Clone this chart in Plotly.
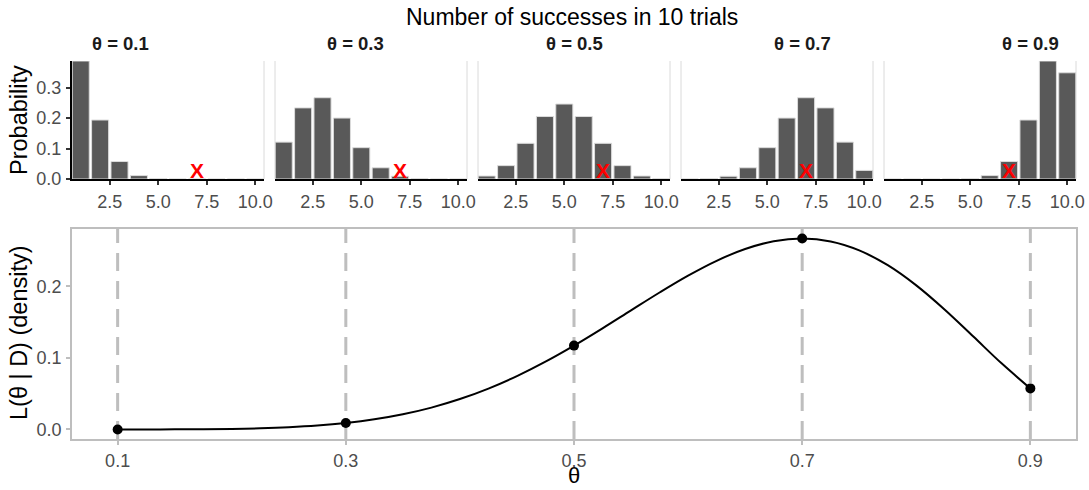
import plotly.graph_objects as go

# ---------------- data ----------------
successes = [1, 2, 3, 4, 5, 6, 7, 8, 9, 10]
theta_values = [0.1, 0.3, 0.5, 0.7, 0.9]
panel_labels = ["θ = 0.1", "θ = 0.3", "θ = 0.5", "θ = 0.7", "θ = 0.9"]

prob_theta_01 = [0.3874, 0.1937, 0.0574, 0.0112, 0.0015, 0.0001, 0.0000, 0.0000, 0.0000, 0.0000]
prob_theta_03 = [0.1211, 0.2335, 0.2668, 0.2001, 0.1029, 0.0368, 0.0090, 0.0014, 0.0001, 0.0000]
prob_theta_05 = [0.0098, 0.0439, 0.1172, 0.2051, 0.2461, 0.2051, 0.1172, 0.0439, 0.0098, 0.0010]
prob_theta_07 = [0.0001, 0.0014, 0.0090, 0.0368, 0.1029, 0.2001, 0.2668, 0.2335, 0.1211, 0.0282]
prob_theta_09 = [0.0000, 0.0000, 0.0000, 0.0001, 0.0015, 0.0112, 0.0574, 0.1937, 0.3874, 0.3487]
panel_probs = [prob_theta_01, prob_theta_03, prob_theta_05, prob_theta_07, prob_theta_09]

observed_successes = 7
observed_marker_y = 0.019

curve_theta = [0.100, 0.125, 0.150, 0.175, 0.200, 0.225, 0.250, 0.275, 0.300, 0.325,
               0.350, 0.375, 0.400, 0.425, 0.450, 0.475, 0.500, 0.525, 0.550, 0.575,
               0.600, 0.625, 0.650, 0.675, 0.700, 0.725, 0.750, 0.775, 0.800, 0.825,
               0.850, 0.875, 0.900]
curve_likelihood = [0.00001, 0.00004, 0.00013, 0.00034, 0.00079, 0.00163, 0.00309, 0.00544,
                    0.00900, 0.01413, 0.02120, 0.03055, 0.04247, 0.05714, 0.07460, 0.09474,
                    0.11719, 0.14138, 0.16648, 0.19143, 0.21499, 0.23574, 0.25222, 0.26300,
                    0.26683, 0.26275, 0.25028, 0.22954, 0.20133, 0.16729, 0.12983, 0.09204,
                    0.05740]
point_likelihood = [0.00001, 0.00900, 0.11719, 0.26683, 0.05740]

x_ticks_top = [2.5, 5.0, 7.5, 10.0]
x_ticktext_top = ["2.5", "5.0", "7.5", "10.0"]
y_ticks_top = [0.0, 0.1, 0.2, 0.3]
y_ticktext_top = ["0.0", "0.1", "0.2", "0.3"]
y_ticks_bottom = [0.0, 0.1, 0.2]
y_ticktext_bottom = ["0.0", "0.1", "0.2"]
x_ticktext_bottom = ["0.1", "0.3", "0.5", "0.7", "0.9"]

# ---------------- layout helpers ----------------
W, H = 1089, 490
def px(x):
    return x / W
def py(y):
    return 1 - y / H

FONT = "Liberation Sans, Arial, sans-serif"
TICK_COLOR = "#4D4D4D"
TICK_SIZE = 18
TITLE_SIZE = 23.5

panel_left = [72, 275, 478, 681, 884]
panel_width = 192
top_y0, top_y1 = 61, 179
bot_x0, bot_x1 = 72, 1076
bot_y0, bot_y1 = 229, 439

fig = go.Figure()
layout = dict(
    width=W, height=H, autosize=False,
    margin=dict(l=0, r=0, t=0, b=0, pad=0, autoexpand=False),
    paper_bgcolor="white", plot_bgcolor="rgba(0,0,0,0)",
    showlegend=False,
    font=dict(family=FONT, color=TICK_COLOR),
)

shapes = []
annotations = []

for i, probs in enumerate(panel_probs):
    n = i + 1
    xa = "x" if n == 1 else f"x{n}"
    ya = "y" if n == 1 else f"y{n}"
    fig.add_trace(go.Bar(
        x=successes, y=probs, width=0.88,
        marker=dict(color="#595959", line=dict(color="#DCDCDC", width=1)),
        xaxis=xa, yaxis=ya, hoverinfo="skip",
    ))
    fig.add_trace(go.Scatter(
        x=[observed_successes], y=[observed_marker_y], mode="text", text=["X"],
        textfont=dict(family=FONT, size=21, color="#FF0000", weight="bold"),
        textposition="middle center", xaxis=xa, yaxis=ya, hoverinfo="skip",
    ))
    x0 = panel_left[i]
    x1 = x0 + panel_width
    layout[f"xaxis{'' if n == 1 else n}"] = dict(
        domain=[px(x0), px(x1)], anchor=ya, automargin=False,
        range=[0.55, 10.45], showgrid=False, zeroline=False,
        showline=True, linecolor="black", linewidth=2,
        ticks="outside", ticklen=4, tickwidth=1.5, tickcolor="#333333",
        tickvals=x_ticks_top, ticktext=x_ticktext_top,
        tickfont=dict(family=FONT, size=TICK_SIZE, color=TICK_COLOR),
        ticklabelstandoff=1,
    )
    ydict = dict(
        domain=[py(top_y1), py(top_y0)], anchor=xa, automargin=False,
        range=[0, 0.3874], showgrid=False, zeroline=False,
    )
    if n == 1:
        ydict.update(showline=True, linecolor="black", linewidth=2,
                     ticks="outside", ticklen=4, tickwidth=1.5, tickcolor="#333333",
                     tickvals=y_ticks_top, ticktext=y_ticktext_top,
                     tickfont=dict(family=FONT, size=TICK_SIZE, color=TICK_COLOR),
                     ticklabelstandoff=1)
    else:
        ydict.update(showline=False, showticklabels=False, ticks="")
    layout[f"yaxis{'' if n == 1 else n}"] = ydict

    # light panel edges
    edges = [x1] if n == 1 else [x0, x1]
    for ex in edges:
        shapes.append(dict(type="line", xref="paper", yref="paper",
                           x0=px(ex), x1=px(ex), y0=py(top_y1), y1=py(top_y0),
                           line=dict(color="#DADADA", width=1), layer="below"))
    annotations.append(dict(
        text=f"<b>{panel_labels[i]}</b>", xref="paper", yref="paper",
        x=px([120, 355, 574.5, 802.5, 1030.5][i]), y=py(44),
        xanchor="center", yanchor="middle", showarrow=False,
        font=dict(family=FONT, size=18.5, color="#1A1A1A"),
    ))

# bottom panel
for t in theta_values:
    shapes.append(dict(type="line", xref="x6", yref="y6 domain",
                       x0=t, x1=t, y0=0, y1=1,
                       line=dict(color="#BEBEBE", width=3, dash="18px,10px"),
                       layer="below"))

fig.add_trace(go.Scatter(
    x=curve_theta, y=curve_likelihood, mode="lines", line_shape="spline",
    line=dict(color="black", width=2), xaxis="x6", yaxis="y6", hoverinfo="skip",
))
fig.add_trace(go.Scatter(
    x=theta_values, y=point_likelihood, mode="markers",
    marker=dict(color="black", size=10), xaxis="x6", yaxis="y6",
))

layout["xaxis6"] = dict(
    domain=[px(bot_x0), px(bot_x1)], anchor="y6", automargin=False,
    range=[0.06, 0.94], showgrid=False, zeroline=False,
    showline=True, mirror=True, linecolor="#BEBEBE", linewidth=1.5,
    ticks="outside", ticklen=4, tickwidth=1.5, tickcolor="#BEBEBE",
    tickvals=theta_values, ticktext=x_ticktext_bottom,
    tickfont=dict(family=FONT, size=TICK_SIZE, color=TICK_COLOR),
    ticklabelstandoff=1,
)
layout["yaxis6"] = dict(
    domain=[py(bot_y1), py(bot_y0)], anchor="x6", automargin=False,
    range=[-0.01334, 0.28017], showgrid=False, zeroline=False,
    showline=True, mirror=True, linecolor="#BEBEBE", linewidth=1.5,
    ticks="outside", ticklen=4, tickwidth=1.5, tickcolor="#BEBEBE",
    tickvals=y_ticks_bottom, ticktext=y_ticktext_bottom,
    tickfont=dict(family=FONT, size=TICK_SIZE, color=TICK_COLOR),
    ticklabelstandoff=1,
)

annotations += [
    dict(text="Number of successes in 10 trials", xref="paper", yref="paper",
         x=px(571.5), y=py(17), xanchor="center", yanchor="middle", showarrow=False,
         font=dict(family=FONT, size=23, color="black")),
    dict(text="Probability", xref="paper", yref="paper", textangle=-90,
         x=px(19), y=py(120), xanchor="center", yanchor="middle", showarrow=False,
         font=dict(family=FONT, size=TITLE_SIZE, color="black")),
    dict(text="L(θ | D) (density)", xref="paper", yref="paper", textangle=-90,
         x=px(19), y=py(333), xanchor="center", yanchor="middle", showarrow=False,
         font=dict(family=FONT, size=TITLE_SIZE, color="black")),
    dict(text="θ", xref="paper", yref="paper",
         x=px(574), y=0, xanchor="center", yanchor="bottom", showarrow=False,
         font=dict(family=FONT, size=22, color="black")),
]

layout["shapes"] = shapes
layout["annotations"] = annotations
fig.update_layout(**layout)
fig.write_html("out.html")
